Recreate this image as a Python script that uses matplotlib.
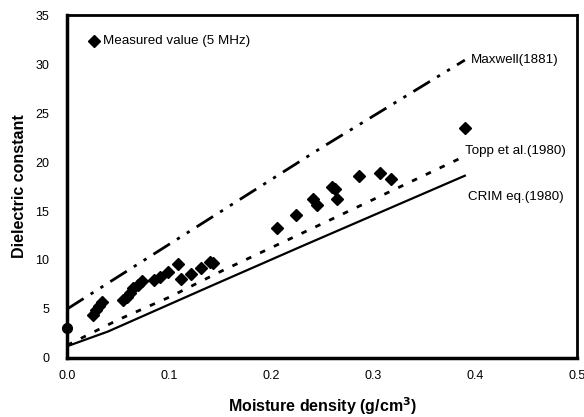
import matplotlib

matplotlib.use("Agg")

import matplotlib.pyplot as plt

plt.rcParams["font.family"] = ["Liberation Sans", "DejaVu Sans"]

# measured dielectric constant (5 MHz)
meas_x = [0.025, 0.028, 0.031, 0.034,
          0.055, 0.059, 0.062, 0.065, 0.069, 0.073,
          0.085, 0.091, 0.099, 0.109, 0.112, 0.121, 0.131, 0.140, 0.143,
          0.206, 0.224, 0.241, 0.245, 0.260, 0.263, 0.265, 0.286, 0.307, 0.318,
          0.390]
meas_y = [4.4, 4.9, 5.3, 5.7,
          5.9, 6.2, 6.6, 7.1, 7.4, 7.9,
          8.0, 8.3, 8.8, 9.6, 8.1, 8.6, 9.2, 9.8, 9.7,
          13.3, 14.6, 16.2, 15.6, 17.5, 17.2, 16.2, 18.6, 18.9, 18.3,
          23.5]
dry_x = [0.0]
dry_y = [3.1]

maxwell_x = [0.0, 0.1, 0.25, 0.39]
maxwell_y = [5.0, 11.6, 21.5, 30.4]
topp_x = [0.0, 0.05, 0.1, 0.15, 0.25, 0.39]
topp_y = [1.3, 3.9, 6.2, 8.8, 13.7, 20.6]
crim_x = [0.0, 0.04, 0.14, 0.23, 0.39]
crim_y = [1.2, 2.7, 7.3, 11.4, 18.6]

fig = plt.figure(figsize=(5.84, 4.17), dpi=100)
ax = fig.add_axes([0.115, 0.1415, 0.873, 0.8225])

ax.plot(maxwell_x, maxwell_y, color="black", lw=2.0,
        dashes=(7, 3, 1.2, 3, 1.2, 3))
ax.plot(topp_x, topp_y, color="black", lw=2.0, dashes=(2, 3.5))
ax.plot(crim_x, crim_y, color="black", lw=1.6)
ax.plot(meas_x, meas_y, "D", color="black", ms=6, ls="none")
ax.plot(dry_x, dry_y, "o", color="black", ms=7, clip_on=False, zorder=5)

ax.plot([0.0265], [32.3], "D", color="black", ms=6)
ax.text(0.035, 32.3, "Measured value (5 MHz)", fontsize=9.6, va="center")
ax.text(0.396, 30.4, "Maxwell(1881)", fontsize=9.6, va="center")
ax.text(0.390, 21.1, "Topp et al.(1980)", fontsize=9.6, va="center")
ax.text(0.393, 16.4, "CRIM eq.(1980)", fontsize=9.6, va="center")

ax.set_xlim(0, 0.5)
ax.set_ylim(0, 35)
ax.set_xticks([0.0, 0.1, 0.2, 0.3, 0.4, 0.5])
ax.set_xticklabels(["0.0", "0.1", "0.2", "0.3", "0.4", "0.5"])
ax.set_yticks(range(0, 36, 5))
ax.tick_params(length=0, labelsize=9)
ax.tick_params(axis="x", pad=9)
ax.tick_params(axis="y", pad=13)
for side in ["left", "bottom"]:
    ax.spines[side].set_linewidth(2.5)
for side in ["top", "right"]:
    ax.spines[side].set_linewidth(2.0)

ax.set_xlabel("Moisture density (g/cm$^\\mathbf{3}$)", fontsize=11.5,
              fontweight="bold", labelpad=9)
ax.set_ylabel("Dielectric constant", fontsize=11.5, fontweight="bold",
              labelpad=6)

fig.savefig("out.png", dpi=100)
